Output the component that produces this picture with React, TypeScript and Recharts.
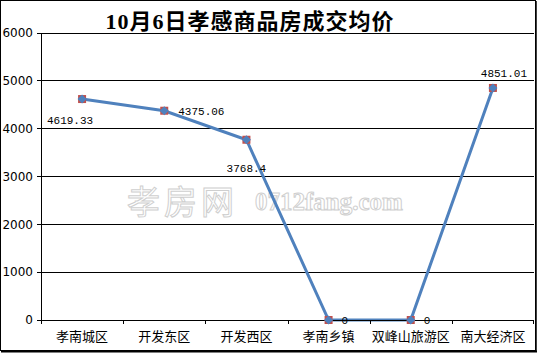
import React from "react";
import { ComposedChart, Line, XAxis, YAxis, CartesianGrid } from "recharts";

const categories = ["孝南城区", "开发东区", "开发西区", "孝南乡镇", "双峰山旅游区", "南大经济区"];
const prices = [4619.33, 4375.06, 3768.4, 0, 0, 4851.01];
const priceLabels = ["4619.33", "4375.06", "3768.4", "0", "0", "4851.01"];
const yTicks = [0, 1000, 2000, 3000, 4000, 5000, 6000];
const title = "10月6日孝感商品房成交均价";

const data = categories.map((c, i) => ({ name: c, price: prices[i], label: priceLabels[i] }));

const W = 538;
const H = 353;
const M = { top: 33, right: 4, bottom: 0, left: 0 };
const YW = 41;
const XH = 33;
const BW = (W - YW - M.right) / categories.length;

// label placement style: [dx, dy, anchor]
const labelPlace: [number, number, string][] = [
  [-12, 25, "middle"],
  [14, 4, "start"],
  [0, 32, "middle"],
  [13, 4, "start"],
  [13, 4, "start"],
  [11, -11, "middle"],
];

const Marker = (props: any) => {
  const { cx, cy } = props;
  if (cx == null || cy == null) return null;
  const r = 4.5;
  return (
    <g>
      <rect x={cx - 4} y={cy - 4} width={8} height={8} fill="#C0504D" />
      <polygon
        points={`${cx},${cy - r} ${cx + r},${cy} ${cx},${cy + r} ${cx - r},${cy}`}
        fill="#4F81BD"
      />
    </g>
  );
};

const PointLabel = (props: any) => {
  const { x, y, index } = props;
  const [dx, dy, anchor] = labelPlace[index];
  return (
    <text
      x={x + dx}
      y={y + dy}
      textAnchor={anchor as any}
      fontFamily="'Liberation Mono', 'DejaVu Sans Mono', monospace"
      fontSize={11}
      fill="#000"
    >
      {priceLabels[index]}
    </text>
  );
};

const CatTick = (props: any) => {
  const { x, y, payload, index } = props;
  const top = y - 10;
  return (
    <g>
      <line x1={Math.round(x - BW / 2) + 0.5} y1={top} x2={Math.round(x - BW / 2) + 0.5} y2={top + 4} stroke="#000" />
      {index === categories.length - 1 && (
        <line x1={Math.round(x + BW / 2) - 0.5} y1={top} x2={Math.round(x + BW / 2) - 0.5} y2={top + 4} stroke="#000" />
      )}
      <text
        x={x}
        y={y + 11}
        textAnchor="middle"
        fontFamily="'Noto Sans CJK SC', sans-serif"
        fontSize={13}
        fill="#000"
      >
        {payload.value}
      </text>
    </g>
  );
};

const css = `.recharts-cartesian-grid line, .recharts-cartesian-axis-line, .recharts-cartesian-axis-tick-line { shape-rendering: crispEdges; }`;

export default function App() {
  return (
    <div style={{ position: "absolute", left: 0, top: 0, width: W, height: H, background: "#fff" }}>
      <style>{css}</style>
      <svg width={W} height={H} style={{ position: "absolute", left: 0, top: 0 }}>
        <rect x={0.5} y={0.5} width={535} height={350} fill="#fff" stroke="#000" strokeWidth={1} />
        <line x1={536} y1={1} x2={536} y2={352} stroke="#000" strokeWidth={1.5} />
        <line x1={1} y1={351.5} x2={537} y2={351.5} stroke="#000" strokeWidth={2} />
        <text
          x={250}
          y={29}
          textAnchor="middle"
          fontFamily="'Liberation Serif', 'Noto Sans CJK SC', serif"
          fontWeight="bold"
          fontSize={22}
          letterSpacing={1}
          fill="#000"
        >
          {title}
        </text>
        <text
          x={127}
          y={214}
          fontFamily="'Noto Sans CJK SC', sans-serif"
          fontSize={33}
          fill="#fff"
          stroke="#cfcfcf"
          strokeWidth={1}
          letterSpacing={4}
        >
          孝房网
        </text>
        <text
          x={255}
          y={210}
          fontFamily="'Liberation Serif', serif"
          fontWeight="bold"
          fontSize={25}
          fill="#fff"
          stroke="#cfcfcf"
          strokeWidth={1}
        >
          0712fang.com
        </text>
      </svg>
      <div style={{ position: "absolute", left: 0, top: 0 }}>
        <ComposedChart width={W} height={H} data={data} margin={M}>
          <CartesianGrid vertical={false} stroke="#000" strokeWidth={1} fill="none" />
          <XAxis
            dataKey="name"
            scale="band"
            height={XH}
            interval={0}
            tickLine={false}
            axisLine={{ stroke: "#000" }}
            tick={<CatTick />}
            tickSize={4}
            tickMargin={6}
          />
          <YAxis
            width={YW}
            domain={[0, 6000]}
            ticks={yTicks}
            interval={0}
            tickSize={4}
            tickMargin={4}
            axisLine={{ stroke: "#000" }}
            tickLine={{ stroke: "#000" }}
            tick={{ fill: "#000", fontSize: 12, fontFamily: "'DejaVu Sans', sans-serif" }}
          />
          <Line
            dataKey="price"
            stroke="#4F81BD"
            strokeWidth={3}
            dot={<Marker />}
            activeDot={false}
            isAnimationActive={false}
            label={<PointLabel />}
          />
        </ComposedChart>
      </div>
    </div>
  );
}
